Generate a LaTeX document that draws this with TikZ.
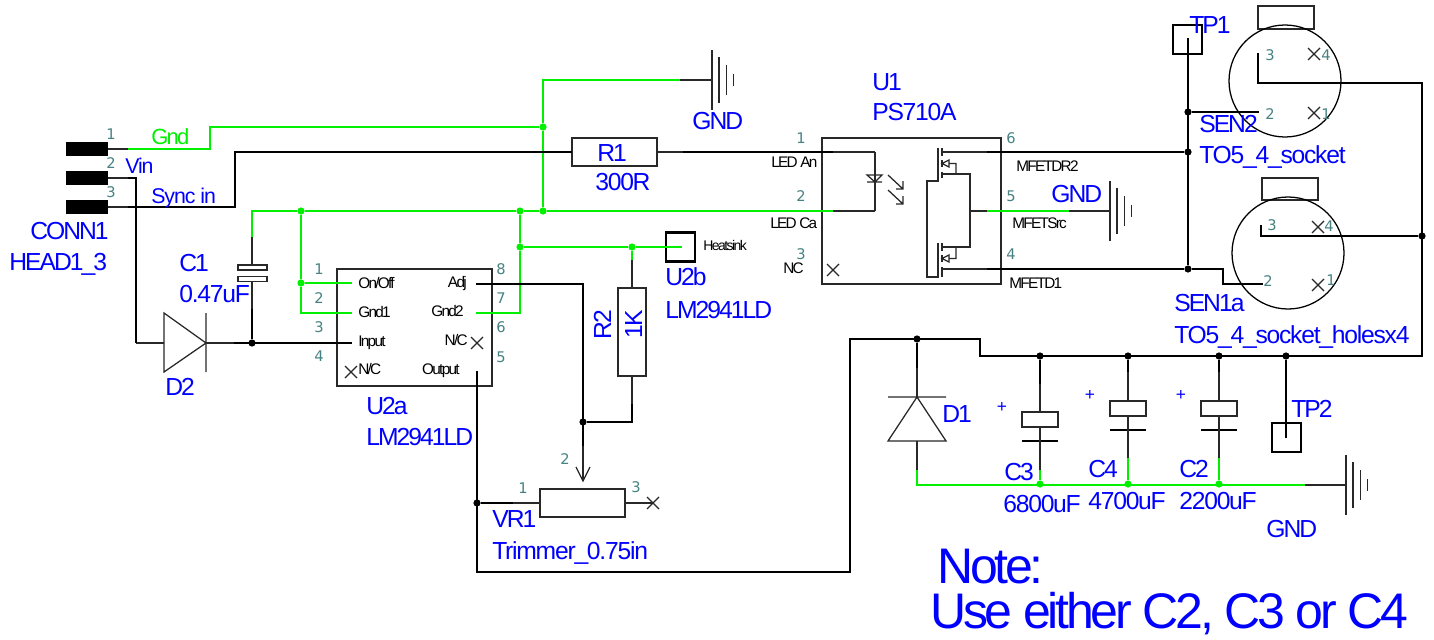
\documentclass[tikz,border=0pt]{standalone}
\usepackage{fontspec}
\setmainfont{Liberation Sans}
\newfontfamily\lblfont[LetterSpace=-8]{Liberation Sans}
\newfontfamily\lblwide[LetterSpace=-5]{Liberation Sans}
\newfontfamily\blkfont[LetterSpace=-11]{Liberation Sans}
\newfontfamily\notefont[LetterSpace=-6.5]{Liberation Sans}
\newfontfamily\pinfont{DejaVu Sans}
\definecolor{netgreen}{RGB}{0,240,0}
\definecolor{pinteal}{RGB}{70,130,130}
\definecolor{inkgray}{RGB}{40,40,40}
\definecolor{lblblue}{RGB}{0,0,255}
\tikzset{
  thinw/.style={draw=inkgray,line width=1.1pt},
  wire/.style={draw=black,line width=2.1pt,line join=miter},
  gwire/.style={draw=netgreen,line width=2.1pt,line join=miter},
  sym/.style={draw=inkgray,line width=0.95pt},
  rectbox/.style={draw=inkgray,line width=1.1pt,fill=none,inner sep=0pt,outer sep=0pt},
  tpbox/.style={draw=black,line width=1.7pt,fill=none,inner sep=0pt,outer sep=0pt},
  jb/.style={circle,fill=black,inner sep=0pt,minimum size=5.4pt,outer sep=0pt},
  jg/.style={circle,fill=netgreen,inner sep=0pt,minimum size=5.4pt,outer sep=0pt},
  pad/.style={fill=black,inner sep=0pt,outer sep=0pt},
  lbl/.style={anchor=base west,inner sep=0pt,text=lblblue,font=\lblfont\fontsize{18.5}{20}\selectfont},
  wlbl/.style={lbl,font=\lblwide\fontsize{18.5}{20}\selectfont},
  slbl/.style={anchor=base west,inner sep=0pt,text=lblblue,font=\lblwide\fontsize{16}{18}\selectfont},
  glbl/.style={slbl,text=netgreen,font=\lblfont\fontsize{16.5}{18}\selectfont},
  blk/.style={anchor=base west,inner sep=0pt,text=black,font=\blkfont\fontsize{11.5}{13}\selectfont},
  blkr/.style={blk,anchor=base east},
  pinn/.style={inner sep=0pt,text=pinteal,font=\pinfont\fontsize{11}{12}\selectfont},
  plusm/.style={anchor=center,inner sep=0pt,text=lblblue,font=\fontsize{13}{14}\selectfont},
  notelbl/.style={anchor=base west,inner sep=0pt,text=lblblue,font=\notefont\fontsize{37.5}{40}\selectfont},
}
\newcommand\RectN[6][rectbox]{\node[#1,minimum width=#5*0.75pt,minimum height=#6*0.75pt] (#2) at (#3,#4) {};}
\newcommand\XM[2]{\draw[sym] (#1-6,#2-6) -- (#1+6,#2+6) (#1-6,#2+6) -- (#1+6,#2-6);}
\newcommand\GndSym[3]{\coordinate (#1) at (#2,#3);
  \draw[sym,line width=1.1pt] (#2,#3-30) -- (#2,#3+30) (#2+7,#3-23) -- (#2+7,#3+23) (#2+14.5,#3-15) -- (#2+14.5,#3+15) (#2+21.5,#3-6) -- (#2+21.5,#3+6);}
\newcommand\PinN[4]{\node[pinn] (#1) at (#2,#3) {#4};}
\begin{document}
\begin{tikzpicture}[x=0.75pt,y=-0.75pt]
\useasboundingbox (0,0) rectangle (1434,639);
\fill[white] (0,0) rectangle (1434,639);

% ---------- components
\RectN[pad]{pad1}{87}{149}{42}{14}
\RectN[pad]{pad2}{87}{178}{42}{14}
\RectN[pad]{pad3}{87}{207}{42}{14}
\RectN{R1}{614.5}{152}{85}{28}
\RectN{R2}{632}{332}{28}{88}
\RectN{VR1}{582.5}{503}{85}{28}
\RectN{U2a}{414.5}{327.5}{155}{117}
\RectN{U1}{911.5}{211}{179}{146}
\RectN[tpbox]{U2b}{680.5}{247}{29}{29}
\RectN[tpbox]{TP1}{1187.5}{39.5}{29}{29}
\RectN[tpbox]{TP2}{1286.5}{437.5}{29}{29}
\RectN{C3b}{1040}{419.5}{36}{15}
\RectN{C4b}{1128}{408.5}{36}{15}
\RectN{C2b}{1219}{408.5}{36}{15}
\RectN{C1a}{252.5}{267.5}{29}{5}
\RectN{C1c}{252.5}{279}{29}{5}
\RectN{S2tab}{1286}{17.5}{56}{23}
\RectN{S1tab}{1290}{189}{56}{22}
\node[draw=black,line width=0.95pt,circle,minimum size=84pt,inner sep=0pt,outer sep=0pt,fill=none] (S2) at (1285,81) {};
\node[draw=black,line width=0.95pt,circle,minimum size=84pt,inner sep=0pt,outer sep=0pt,fill=none] (S1) at (1288,253) {};

% ---------- diodes
\draw[sym] (164,313) -- (164,372) -- (206,343) -- cycle (206,313) -- (206,372);
\draw[sym] (888,397) -- (946,397) (917,397) -- (888,441) -- (946,441) -- cycle;
\coordinate (D2a) at (164,343); \coordinate (D2k) at (206,343);
\coordinate (D1k) at (917,397); \coordinate (D1a) at (917,441);

% ---------- capacitor plates
\draw[wire,line width=1.6pt] (1022,441) -- (1058,441) (1110,430) -- (1146,430) (1201,430) -- (1237,430);
\coordinate (C3p) at (1040,441); \coordinate (C4p) at (1128,430); \coordinate (C2p) at (1219,430);

% ---------- crosses
\XM{351}{372}\XM{477}{343}\XM{653}{503}\XM{833}{270}
\XM{1314}{54}\XM{1314}{113}\XM{1318}{227}\XM{1318}{285}

% ---------- gnd symbols
\GndSym{gT}{712}{80}
\GndSym{gU}{1110}{211}
\GndSym{gB}{1346}{485}

% ---------- opto
\draw[sym] (867,175) -- (882,175) -- (875,182) -- cycle (867,182) -- (882,182);
\draw[sym] (888,175) -- (903,189) (903,181) -- (903,189) -- (896,189);
\draw[sym] (888,190) -- (903,204) (903,196) -- (903,204) -- (896,204);
\coordinate (ledT) at (875,152); \coordinate (ledB) at (875,211);
\draw[thinw,line width=0.95pt] (ledT) -- (ledB);

% ---------- mosfets
\coordinate (dT) at (942,152);\coordinate (sT) at (942,174);
\coordinate (dB) at (942,269);\coordinate (sB) at (942,247);
\coordinate (mid) at (970,211);
\draw[sym] (938,148) -- (938,181) -- (927,181) -- (927,277) -- (938,277) -- (938,243);
\draw[sym] (942,148) -- (942,156) (942,160) -- (942,167) (942,172) -- (942,178);
\draw[sym] (942,243) -- (942,251) (942,255) -- (942,262) (942,267) -- (942,277);
\draw[sym] (sT) -- (970,174) -- (970,247) -- (sB);
\draw[sym] (942,163.5) -- (949,160) -- (949,167) -- cycle (949,163.5) -- (956,163.5) -- (956,174);
\draw[sym] (942,258.5) -- (949,255) -- (949,262) -- cycle (949,258.5) -- (956,258.5) -- (956,247);

% ---------- junctions
\node[jg] (jG1) at (543,127) {};
\node[jg] (jG2) at (543,211) {};
\node[jg] (jG3) at (520,211) {};
\node[jg] (jG4) at (301,211) {};
\node[jg] (jG5) at (301,283) {};
\node[jg] (jG6) at (520,247) {};
\node[jg] (jG7) at (632,247) {};
\node[jg] (jG8) at (1040,484) {};
\node[jg] (jG9) at (1128,484) {};
\node[jg] (jG10) at (1219,484) {};
\node[jb] (jB1) at (252,343) {};
\node[jb] (jB2) at (583,422) {};
\node[jb] (jB3) at (477,503) {};
\node[jb] (jB4) at (917,339) {};
\node[jb] (jB5) at (1040,356) {};
\node[jb] (jB6) at (1128,356) {};
\node[jb] (jB7) at (1219,356) {};
\node[jb] (jB8) at (1286,356) {};
\node[jb] (jB9) at (1188,112) {};
\node[jb] (jB10) at (1188,152) {};
\node[jb] (jB11) at (1188,269) {};
\node[jb] (jB12) at (1422,236) {};

% ---------- thin stubs
\draw[thinw] (pad1.east) -- (128,149) (pad2.east) -- (128,178) (pad3.east) -- (128,207);
\draw[thinw] (136,343) -- (D2a) (D2k) -- (234,343);
\draw[thinw] (252,237) -- (C1a.north -| 252,0) (252,281.5) -- (252,309);
\draw[thinw] (R1.east) -- (683,152);
\draw[thinw] (632,260) -- (R2.north) (R2.south) -- (632,404);
\draw[thinw] (583,446) -- (583,481);
\draw[sym] (576,467) -- (583,481) -- (590,467);
\draw[thinw] (513,503) -- (VR1.west) (VR1.east) -- (653,503);
\draw[thinw] (833,152) -- (ledT) (833,211) -- (ledB);
\draw[thinw] (dT) -- (987,152) (dB) -- (987,269);
\draw[thinw] (mid) -- (987,211) (1069,211) -- (gU);
\draw[thinw] (680,80) -- (gT);
\draw[thinw] (1305,485) -- (gB);
\draw[thinw] (917,368) -- (D1k) (D1a) -- (917,470);
\draw[thinw] (1040,384) -- (C3b.north) (C3b.south) -- (C3p) -- (1040,470);
\draw[thinw] (1128,372) -- (C4b.north) (C4b.south) -- (C4p) -- (1128,458);
\draw[thinw] (1219,372) -- (C2b.north) (C2b.south) -- (C2p) -- (1219,458);

% ---------- green nets
\draw[gwire] (128,149) -- (210,149) -- (210,127) -- (jG1) -- (543,80) -- (680,80);
\draw[gwire] (jG1) -- (jG2);
\draw[gwire] (252,237) -- (252,211) -- (jG4) -- (jG3) -- (jG2) -- (833,211);
\draw[gwire] (jG4) -- (jG5) -- (352,283);
\draw[gwire] (jG5) -- (301,313) -- (352,313);
\draw[gwire] (476,313) -- (520,313) -- (jG6) -- (jG3);
\draw[gwire] (jG6) -- (jG7) -- (682,247);
\draw[gwire] (jG7) -- (632,260);
\draw[gwire] (987,211) -- (1069,211);
\draw[gwire] (917,470) -- (917,485) -- (1305,485);
\draw[gwire] (1040,470) -- (jG8);
\draw[gwire] (1128,458) -- (jG9);
\draw[gwire] (1219,458) -- (jG10);

% ---------- black nets
\draw[wire] (128,178) -- (136,178) -- (136,343);
\draw[wire] (128,207) -- (235,207) -- (235,152) -- (R1.west);
\draw[wire] (234,343) -- (352,343);
\draw[wire] (252,309) -- (jB1);
\draw[wire] (683,152) -- (833,152);
\draw[wire] (476,284) -- (583,284) -- (583,446);
\draw[wire] (632,404) -- (632,422) -- (jB2);
\draw[wire] (477,371) -- (477,572) -- (850,572) -- (850,339) -- (980,339) -- (980,356) -- (1422,356) -- (1422,83) -- (1258,83) -- (1258,53);
\draw[wire] (jB3) -- (513,503);
\draw[wire] (jB4) -- (917,368);
\draw[wire] (jB5) -- (1040,384);
\draw[wire] (jB6) -- (1128,372);
\draw[wire] (jB7) -- (1219,372);
\draw[wire] (jB8) -- (1286,438);
\draw[wire] (987,152) -- (jB10);
\draw[wire] (987,269) -- (jB11) -- (1223,269) -- (1223,284) -- (1263,284);
\draw[wire] (1188,38) -- (jB11);
\draw[wire] (jB9) -- (1259,112);
\draw[wire] (1261,225) -- (1261,236) -- (jB12);

% ---------- pin numbers
\PinN{n1}{111}{134}{1}\PinN{n2}{111}{163}{2}\PinN{n3}{111}{192}{3}
\PinN{n4}{319}{269}{1}\PinN{n5}{319}{298}{2}\PinN{n6}{319}{327}{3}\PinN{n7}{319}{356}{4}
\PinN{n8}{501}{269}{8}\PinN{n9}{501}{298}{7}\PinN{n10}{501}{327}{6}\PinN{n11}{501}{357}{5}
\PinN{n12}{801}{138}{1}\PinN{n13}{801}{196}{2}\PinN{n14}{801}{254}{3}
\PinN{n15}{1011}{138}{6}\PinN{n16}{1011}{196}{5}\PinN{n17}{1011}{254}{4}
\PinN{n18}{523}{488}{1}\PinN{n19}{565}{459}{2}\PinN{n20}{636}{487}{3}
\PinN{n21}{1270}{55}{3}\PinN{n22}{1326}{55}{4}\PinN{n23}{1270}{114}{2}\PinN{n24}{1326}{114}{1}
\PinN{n25}{1272}{225}{3}\PinN{n26}{1329}{226}{4}\PinN{n27}{1268}{281}{2}\PinN{n28}{1331}{280}{1}

% ---------- black pin names
\node[blk] (tOn) at (358,288) {On/Off};
\node[blk] (tG1) at (358,317) {Gnd1};
\node[blk] (tIn) at (358,346) {Input};
\node[blk] (tNC1) at (358,374) {N/C};
\node[blkr] (tAdj) at (467,287) {Adj};
\node[blkr] (tG2) at (464,316) {Gnd2};
\node[blkr] (tNC2) at (468,345) {N/C};
\node[blkr] (tOut) at (460,374) {Output};
\node[blk] (tLA) at (771,167) {LED An};
\node[blk] (tLC) at (770,228) {LED Ca};
\node[blk] (tNC) at (783,273) {NC};
\node[blk] (tDR) at (1016,171) {MFETDR2};
\node[blk] (tSr) at (1012,228) {MFETSrc};
\node[blk] (tD1) at (1009,288) {MFETD1};
\node[blk,font=\blkfont\fontsize{10.5}{12}\selectfont] (tHs) at (703,250) {Heatsink};

% ---------- blue labels
\node[glbl] (tGnd) at (151,144) {Gnd};
\node[slbl] (tVin) at (125,173) {Vin};
\node[slbl] (tSy) at (151,203) {Sync in};
\node[lbl] (tC0) at (30,239) {CONN1};
\node[lbl] (tH) at (9,270) {HEAD1\_3};
\node[lbl] (tC1) at (179,271) {C1};
\node[wlbl] (tC1v) at (179,302) {0.47uF};
\node[lbl] (tD2) at (165,395) {D2};
\node[lbl] (tU1) at (872,90) {U1};
\node[wlbl] (tPS) at (872,120) {PS710A};
\node[lbl] (tGNDa) at (692,129) {GND};
\node[lbl] (tR1) at (597,161) {R1};
\node[wlbl] (tR1v) at (595,190) {300R};
\node[lbl] (tGNDb) at (1051,202) {GND};
\node[lbl] (tU2b) at (665,285) {U2b};
\node[lbl] (tLMb) at (665,318) {LM2941LD};
\node[lbl,rotate=90] (tR2) at (611,340) {R2};
\node[lbl,rotate=90] (tR2v) at (642,339) {1K};
\node[lbl] (tU2a) at (366,414) {U2a};
\node[lbl] (tLMa) at (366,445) {LM2941LD};
\node[lbl] (tVR) at (492,527) {VR1};
\node[wlbl] (tTr) at (492,559) {Trimmer\_0.75in};
\node[lbl] (tS2) at (1199,132) {SEN2};
\node[wlbl] (tS2v) at (1199,163) {TO5\_4\_socket};
\node[lbl] (tS1) at (1174,311) {SEN1a};
\node[wlbl] (tS1v) at (1174,343) {TO5\_4\_socket\_holesx4};
\node[lbl] (tTP1) at (1189,33) {TP1};
\node[lbl] (tTP2) at (1291,417) {TP2};
\node[lbl] (tD1n) at (942,422) {D1};
\node[lbl] (tC3) at (1004,480) {C3};
\node[wlbl] (tC3v) at (1003,512) {6800uF};
\node[lbl] (tC4) at (1088,477) {C4};
\node[wlbl] (tC4v) at (1088,509) {4700uF};
\node[lbl] (tC2) at (1179,477) {C2};
\node[wlbl] (tC2v) at (1179,509) {2200uF};
\node[lbl] (tGNDc) at (1266,537) {GND};
\node[plusm] (pA) at (1002,407) {+};
\node[plusm] (pB) at (1090,395) {+};
\node[plusm] (pC) at (1181,395) {+};
\node[notelbl] (tNote) at (937,583) {Note:};
\node[notelbl] (tUse) at (930,628) {Use either C2, C3 or C4};
\end{tikzpicture}
\end{document}
